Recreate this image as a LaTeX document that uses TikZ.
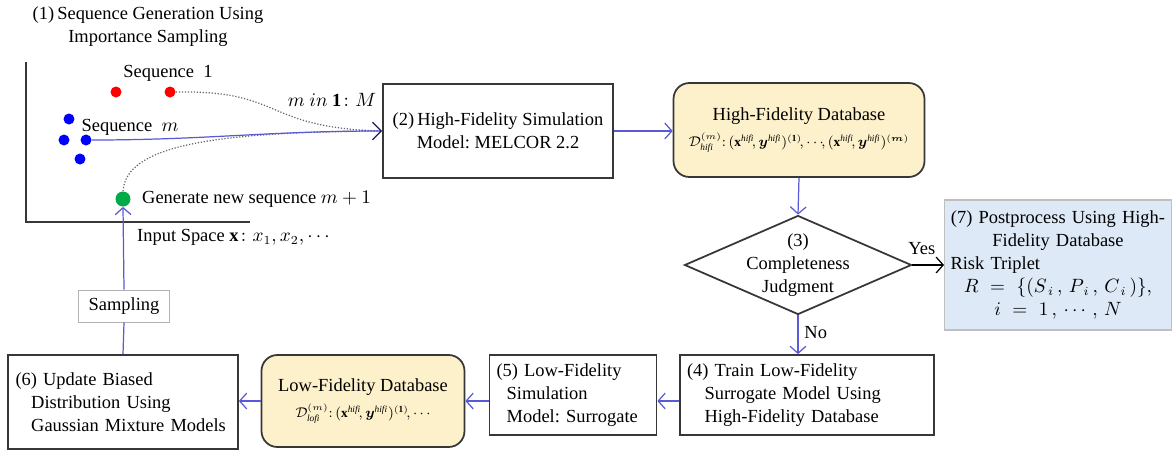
\documentclass[tikz,border=0pt]{standalone}
\usepackage{amsmath,amssymb}
\usepackage{bm}
\usepackage{fontspec}
\setmainfont{Liberation Serif}
\usetikzlibrary{arrows.meta, positioning, shapes.geometric, calc}

\definecolor{flowblue}{RGB}{90,90,215}
\definecolor{tipnavy}{RGB}{30,30,90}
\definecolor{dbfill}{RGB}{253,241,203}
\definecolor{postfill}{RGB}{221,233,246}
\definecolor{edgegray}{RGB}{55,55,55}
\newcommand{\hf}{\mathit{hifi}}

\begin{document}
\begin{tikzpicture}[
            x=0.02cm, y=-0.02cm,
            font=\fontsize{10.5}{13}\selectfont,
            >={Straight Barb[length=4pt,width=9pt]},
            flow/.style    ={->, draw=flowblue, line width=0.7pt},
            yesflow/.style ={->, draw=black, line width=0.7pt},
            proc/.style    ={draw=edgegray, line width=1pt, fill=white, inner sep=2pt,
                             minimum height=1.6cm},
            dbase/.style   ={proc, fill=dbfill, rounded corners=9pt, align=center,
                             minimum height=1.86cm},
            judge/.style   ={diamond, draw=edgegray, line width=1pt, inner sep=0pt},
            post/.style    ={draw=black!25, fill=postfill, line width=0.6pt,
                             minimum height=2.6cm, inner xsep=0.12cm},
            tag/.style     ={draw=black!30, fill=white, line width=0.5pt,
                             minimum width=1.82cm, minimum height=0.64cm},
            trail/.style   ={densely dotted, draw=black!60, line width=0.7pt},
            sdot/.style    ={circle, inner sep=0pt, minimum size=0.22cm},
            axis/.style    ={draw=edgegray, line width=1pt}
        ]
        \useasboundingbox (0,0) rectangle (1173,450);

        % (1) input space with the sampled sequences
        \node[align=center] (title) at (148,27)
              {(1)\,Sequence\ Generation\ Using\\Importance\ Sampling};
        \coordinate (ytop) at (26,62);
        \coordinate (orig) at (26,222);
        \coordinate (xend) at (250,222);
        \draw[axis] (ytop) -- (orig) -- (xend);

        \node[sdot, fill=red] (r1) at (116,92) {};
        \node[sdot, fill=red] (r2) at (170,92) {};
        \node (seqone) at (168,73) {Sequence\ \ 1};

        \node[sdot, fill=blue] (b1) at (69,119) {};
        \node[sdot, fill=blue] (b2) at (64,140) {};
        \node[sdot, fill=blue] (b3) at (86,140) {};
        \node[sdot, fill=blue] (b4) at (80,159) {};
        \node (seqm) at (130,127) {Sequence\ \ $m$};

        \node[sdot, fill={rgb,255:red,0;green,170;blue,70}, minimum size=0.3cm] (gnew) at (123,199) {};
        \node[anchor=west] (gtxt) at (136,199) {Generate\ new\ sequence $m+1$};
        \node[anchor=west] (itxt) at (131,237) {Input Space $\mathbf{x}\colon x_1, x_2, \cdots$};
        \node (loop) at (332,100) {$m\ in\ \mathbf{1}\colon M$};

        % (2)-(7) process boxes
        \node[proc, align=center, minimum width=4.6cm, minimum height=1.88cm] (hifi) at (498,131)
              {(2)\,High-Fidelity\ Simulation\\Model:\ MELCOR 2.2};
        \node[dbase, minimum width=5.02cm, minimum height=1.88cm] (hfdb) at (799,130)
              {High-Fidelity\ Database\\[2pt]
               {\fontsize{7.6}{9}\selectfont$\mathcal{D}^{(m)}_{\hf}{:}\,(\mathbf{x}^{\hf}\!,\bm{y}^{\hf})^{(\mathbf{1})}\!,{\cdots}\!,(\mathbf{x}^{\hf}\!,\bm{y}^{\hf})^{(\bm{m})}$}};
        \node[judge, minimum width=4.54cm, minimum height=1.98cm] (judg) at (798,265) {};
        \node[align=center] (judgtxt) at (judg) {(3)\\Completeness\\Judgment};
        \node[post, text width=4.3cm] (postp) at (1058,265)
              {{\centering (7) Postprocess\ Using\ High-\\Fidelity\ Database\par}
               Risk Triplet\par
               {\centering $R\ =\ \{(S_{\,i}\,,\,P_{\,i}\,,\,C_{\,i}\,)\},$\\$i\ =\ 1\,,\,\cdots\,,\,N$\par}};
        \node[proc, align=left, text width=4.8cm, inner xsep=0.14cm, minimum height=1.6cm] (train) at (807,395)
              {(4) Train Low-Fidelity\\\hspace*{0.95em}Surrogate\ Model Using\\\hspace*{0.95em}High-Fidelity\ Database};
        \node[proc, align=left, text width=3.06cm, inner xsep=0.14cm, minimum height=1.6cm] (lofi) at (573,395)
              {(5) Low-Fidelity\\\hspace*{0.55em}Simulation\\\hspace*{0.55em}Model:\ Surrogate};
        \node[dbase, minimum width=4.06cm, minimum height=1.84cm] (lfdb) at (363,401)
              {Low-Fidelity\ Database\\[2pt]
               {\fontsize{7.6}{9}\selectfont$\mathcal{D}^{(m)}_{\mathit{lofi}}{:}\,(\mathbf{x}^{\hf}\!,\bm{y}^{\hf})^{(\mathbf{1})}\!,{\cdots}$}};
        \node[proc, align=left, text width=4.3cm, inner xsep=0.15cm, minimum height=1.88cm] (gmm) at (123,402)
              {(6) Update Biased\\\hspace*{0.85em}Distribution Using\\\hspace*{0.85em}Gaussian\ Mixture Models};
        \node[tag] (samp) at (124,306) {Sampling};

        % sequences converge on the simulator
        \draw[trail] (r2.east) .. controls (285,90) and (262,128) .. (hifi.west);
        \draw[trail] (gnew.north) .. controls (126,145) and (215,132) .. (hifi.west);
        \draw[draw=flowblue, line width=0.7pt, -{Straight Barb[length=5pt,width=10pt,color=tipnavy]}]
              (b3.east) to[out=0, in=180] (hifi.west);

        \draw[flow] (hifi.east) -- (hfdb.west |- hifi.east);
        \draw[flow] (hfdb.south) -- (judg.north);
        \draw[yesflow] (judg.east) -- node[above, pos=0.3, yshift=2pt] (yes) {Yes} (postp.west |- judg.east);
        \draw[flow] (judg.south) -- node[right, pos=0.45] (no) {No} (judg.south |- train.north);
        \draw[flow] (train.west |- lfdb) -- (lofi.east |- lfdb);
        \draw[flow] (lofi.west |- lfdb) -- (lfdb.east);
        \draw[flow] (lfdb.west) -- (gmm.east |- lfdb);
        \draw[flow, -] (gmm.north) -- (samp.south);
        \draw[flow] (samp.north) -- (gnew.south);

    \end{tikzpicture}
\end{document}
